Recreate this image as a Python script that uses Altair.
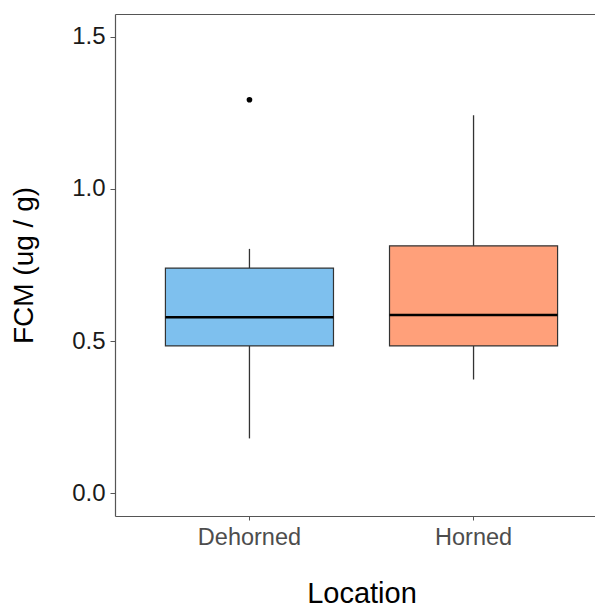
import altair as alt
import pandas as pd

categories = ["Dehorned", "Horned"]
lower_whisker = [0.180, 0.374]
q1 = [0.484, 0.484]
median = [0.578, 0.586]
q3 = [0.740, 0.813]
upper_whisker = [0.803, 1.242]
fill_colors = ["#7EC0EE", "#FFA07A"]

outlier_cat = ["Dehorned"]
outlier_val = [1.293]

y_ticks = [0.0, 0.5, 1.0, 1.5]

box_df = pd.DataFrame({
    "Location": categories,
    "lower": lower_whisker,
    "q1": q1,
    "median": median,
    "q3": q3,
    "upper": upper_whisker,
})
out_df = pd.DataFrame({"Location": outlier_cat, "FCM": outlier_val})

FONT = "Liberation Sans"
FRAME = "#555"

x_scale = alt.Scale(domain=categories, range=[0, 493], paddingInner=0.25, paddingOuter=0.225)

x_bottom = alt.X(
    "Location:N",
    sort=categories,
    scale=x_scale,
    axis=alt.Axis(
        title="Location",
        labelAngle=0,
        labelFontSize=23.5,
        labelColor="#4D4D4D",
        labelFont=FONT,
        labelPadding=5,
        tickColor=FRAME,
        tickSize=4,
        domain=True,
        domainColor=FRAME,
        domainWidth=1.2,
        titleFontSize=29,
        titleFont=FONT,
        titleFontWeight="normal",
        titleColor="black",
        titlePadding=31,
    ),
)

x_top = alt.X(
    "Location:N",
    sort=categories,
    scale=x_scale,
    axis=alt.Axis(
        orient="top",
        title=None,
        labels=False,
        ticks=False,
        domain=True,
        domainColor=FRAME,
        domainWidth=1.2,
    ),
)

x_none = alt.X("Location:N", sort=categories, scale=x_scale, axis=None)

y_scale = alt.Scale(domain=[-0.075, 1.575], nice=False, zero=False)
y_axis = alt.Axis(
    title="FCM (ug / g)",
    values=y_ticks,
    format=".1f",
    labelFontSize=24,
    labelColor="#1a1a1a",
    labelFont=FONT,
    labelPadding=5,
    tickColor=FRAME,
    tickSize=5,
    domain=True,
    domainColor=FRAME,
    domainWidth=1.2,
    grid=False,
    titleFontSize=28,
    titleFont=FONT,
    titleFontWeight="normal",
    titleColor="black",
    titlePadding=33,
)

whiskers = alt.Chart(box_df).mark_rule(color="#333", strokeWidth=1.3).encode(
    x=x_bottom,
    y=alt.Y("lower:Q", scale=y_scale, axis=y_axis, title="FCM (ug / g)"),
    y2="upper:Q",
)

boxes = alt.Chart(box_df).mark_bar(stroke="#333", strokeWidth=1.2, opacity=1).encode(
    x=x_none,
    y=alt.Y("q1:Q", scale=y_scale, axis=y_axis, title="FCM (ug / g)"),
    y2="q3:Q",
    color=alt.Color(
        "Location:N",
        scale=alt.Scale(domain=categories, range=fill_colors),
        legend=None,
    ),
)

medians = alt.Chart(box_df).mark_tick(color="black", thickness=2.5, opacity=1).encode(
    x=x_none,
    y=alt.Y("median:Q", scale=y_scale, axis=y_axis, title="FCM (ug / g)"),
)

outliers = alt.Chart(out_df).mark_circle(color="black", size=32, opacity=1).encode(
    x=x_top,
    y=alt.Y("FCM:Q", scale=y_scale, axis=y_axis, title="FCM (ug / g)"),
)

chart = (
    alt.layer(whiskers, boxes, medians, outliers)
    .resolve_axis(x="independent")
    .properties(
        width=480,
        height=502,
        autosize=alt.AutoSizeParams(type="none"),
        padding={"left": 115, "top": 14, "right": 0, "bottom": 92},
        background="white",
    )
    .configure_view(stroke=None)
)

chart.save("out.html", embed_options={"renderer": "svg", "actions": False})
